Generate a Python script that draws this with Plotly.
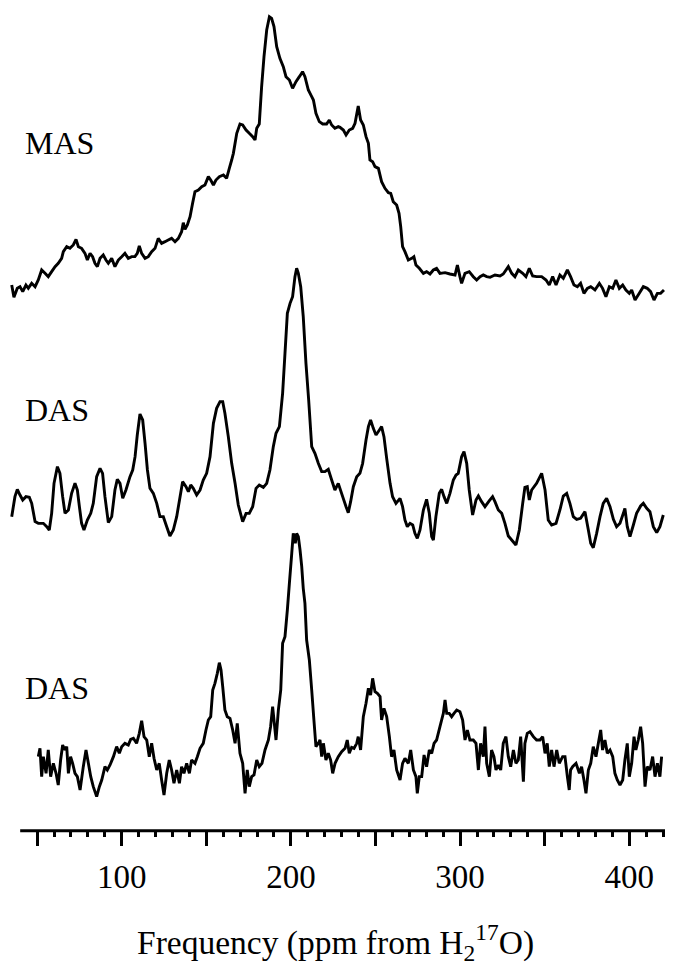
import plotly.graph_objects as go

# ---------------- data (ppm, intensity in arbitrary units) ----------------
mas_ppm = [35.0, 36.3, 38.3, 39.9, 41.5, 43.4, 44.8, 46.8, 48.8, 50.7, 52.7, 54.7, 56.6, 58.6, 60.6, 62.5, 64.5, 65.5, 67.5, 69.4,
           71.4, 73.0, 74.4, 76.3, 78.3, 79.7, 81.3, 82.8, 84.2, 85.6, 87.2, 89.1, 90.7, 92.1, 94.1, 96.0, 98.0, 100.0, 101.9, 103.9,
           105.9, 107.8, 109.2, 110.4, 111.8, 113.8, 115.7, 117.7, 119.7, 121.6, 123.6, 125.6, 127.5, 129.5, 131.5, 133.5, 135.4, 136.4, 137.4, 138.8,
           140.4, 141.9, 143.3, 145.3, 147.3, 149.2, 151.2, 152.6, 154.2, 155.7, 157.7, 160.1, 162.0, 163.6, 165.0, 166.0, 168.0, 169.9, 171.5, 173.5,
           175.4, 177.4, 178.8, 179.8, 181.3, 182.7, 184.1, 185.7, 187.3, 188.6, 190.0, 191.6, 193.5, 195.5, 197.1, 199.1, 201.0, 203.0, 205.0, 206.9,
           208.3, 210.3, 212.3, 213.3, 214.8, 216.8, 218.8, 221.1, 222.7, 224.1, 226.0, 228.0,
           229.0, 231.0, 232.6, 234.5, 236.5, 237.9, 239.8, 241.2, 242.8, 244.4, 245.8, 246.7, 248.3, 249.7, 251.7, 253.6, 255.6, 257.6, 259.0, 260.5,
           262.5, 263.9, 264.9, 266.0, 267.4, 269.4, 271.4, 272.7, 273.9, 275.9, 278.3, 280.2, 282.2, 284.2, 286.1, 288.1, 291.1, 294.0, 297.0, 298.4,
           299.9, 300.9, 302.9, 305.4, 307.8, 309.8, 311.8, 313.7, 315.7, 317.7, 320.6, 323.6, 325.5, 328.5, 330.5, 332.4, 334.4, 337.0, 338.9, 340.9,
           342.9, 345.2, 348.2, 350.8, 352.7, 354.7, 356.7, 359.0, 361.0, 363.4, 365.3, 367.3, 369.3, 371.2, 373.2, 375.2, 377.2, 379.7, 382.3, 384.2,
           386.2, 388.2, 390.2, 392.1, 394.1, 396.1, 398.0, 400.0, 401.4, 403.4, 405.9, 408.3, 410.6, 412.6, 414.6, 416.6, 418.5, 420.5]
mas_int = [45, 8, 35, 40, 25, 45, 35, 50, 40, 60, 90, 80, 70, 85, 100, 110, 125, 145, 160, 155,
           165, 182, 160, 155, 140, 120, 140, 130, 110, 100, 125, 135, 120, 110, 125, 100, 120, 130, 140, 125,
           130, 130, 140, 162, 140, 125, 130, 145, 155, 185, 170, 175, 180, 185, 175, 185, 205, 232, 212, 225,
           250, 290, 325, 330, 340, 345, 370, 360, 345, 360, 370, 375, 365, 395, 420, 440, 500, 528, 525, 510,
           500, 490, 480, 515, 528, 640, 730, 810, 850, 845, 820, 760, 725, 700, 670, 660, 635, 655, 670, 685,
           670, 630, 610, 600, 560, 535, 528, 528, 540, 525, 515, 520,
           518, 510, 495, 510, 515, 530, 582, 540, 525, 490, 470, 420, 415, 400, 395, 355, 335, 322, 320, 295,
           285, 260, 220, 160, 145, 120, 125, 130, 105, 95, 80, 85, 78, 90, 95, 80, 82, 78, 75, 105,
           70, 50, 80, 85, 70, 60, 70, 75, 70, 68, 75, 72, 78, 100, 80, 70, 90, 80, 70, 95,
           72, 70, 70, 60, 45, 70, 45, 75, 65, 90, 70, 45, 40, 50, 20, 35, 40, 30, 50, 35,
           10, 40, 35, 60, 35, 45, 30, 20, 30, 0, 20, 40, 35, 25, 0, 20, 20, 30]

das1_ppm = [35.0, 36.9, 38.3, 39.9, 41.5, 43.4, 45.4, 46.8, 48.8, 50.7, 53.7, 55.7, 57.2, 58.6, 60.0, 62.0, 63.5, 65.1, 66.5, 68.5,
            70.4, 72.4, 73.8, 75.0, 76.3, 77.7, 79.7, 81.7, 83.2, 85.2, 87.2, 88.7, 90.1, 92.1, 94.1, 96.0, 97.4, 99.0, 100.6, 102.5,
            104.9, 106.5, 107.9, 109.2, 110.8, 112.4, 113.8, 115.2, 116.7, 118.7, 120.7, 122.6, 124.6, 126.6, 128.5, 130.5, 132.5, 134.5, 136.0, 138.0,
            139.4, 140.8, 142.3, 144.3, 146.3, 148.2, 150.2, 152.2, 154.2, 156.1, 158.1, 159.7, 161.0, 163.0, 165.0, 167.0, 168.9, 171.5, 173.5, 175.4,
            177.4, 179.4, 181.3, 183.7, 185.7, 187.6, 189.6, 191.2, 193.2, 195.1, 196.5, 197.9, 199.5, 201.0, 202.4, 203.4, 204.4, 205.8, 207.3, 208.9,
            210.5, 212.3, 214.2, 216.2, 218.2, 220.1, 222.1, 224.1, 226.0, 228.0,
            230.6, 232.6, 233.9, 235.3, 236.9, 238.9, 240.8, 242.4, 244.4, 245.8, 247.1, 248.7, 250.3, 252.3, 253.6, 255.0, 256.6, 258.6, 260.1, 262.1,
            264.5, 266.0, 267.4, 268.8, 270.4, 272.0, 273.3, 274.7, 276.3, 278.3, 280.2, 281.8, 283.2, 284.2, 285.7, 287.7, 289.1, 290.5, 292.1, 294.0,
            296.0, 297.6, 298.9, 300.9, 302.3, 303.9, 305.4, 307.4, 309.4, 310.8, 312.7, 314.7, 317.3, 319.2, 320.6, 322.6, 324.6, 326.5, 328.5, 330.5,
            333.0, 335.0, 337.0, 338.3, 339.7, 340.9, 342.3, 345.2, 348.2, 350.2, 352.1, 354.1, 356.7, 359.0, 361.0, 363.0, 364.9, 366.9, 368.9, 371.2,
            373.8, 375.8, 377.2, 378.7, 380.7, 382.7, 384.6, 386.6, 388.6, 390.6, 392.5, 394.5, 396.5, 397.4, 398.8, 400.4, 402.4, 404.3, 406.7, 408.3,
            410.3, 412.2, 414.2, 416.2, 418.1, 420.1]
das1_int = [100, 160, 182, 165, 150, 160, 158, 140, 85, 80, 80, 70, 60, 110, 200, 250, 230, 160, 110, 120,
            170, 200, 180, 130, 80, 60, 90, 110, 140, 220, 245, 230, 160, 82, 100, 180, 212, 200, 155, 180,
            220, 240, 280, 345, 408, 390, 320, 240, 185, 170, 140, 100, 100, 70, 42, 60, 100, 160, 205, 190,
            175, 195, 185, 165, 180, 210, 230, 280, 380, 425, 445, 445, 410, 340, 260, 200, 135, 85, 110, 110,
            130, 185, 195, 188, 200, 240, 310, 350, 370, 470, 590, 710, 740, 760, 820, 845, 830, 790, 700, 560,
            450, 310, 290, 260, 235, 235, 242, 210, 180, 200,
            160, 130, 112, 145, 190, 220, 230, 260, 330, 370, 390, 365, 345, 360, 370, 340, 275, 200, 160, 140,
            155, 130, 90, 70, 80, 75, 50, 35, 60, 120, 152, 110, 40, 30, 100, 170, 182, 160, 140, 170,
            210, 225, 230, 280, 295, 260, 180, 105, 150, 162, 145, 130, 148, 160, 145, 120, 110, 80, 42, 30,
            15, 60, 140, 188, 190, 150, 180, 200, 230, 180, 90, 75, 80, 120, 162, 170, 140, 100, 92, 95,
            115, 60, 20, 7, 50, 100, 140, 155, 130, 92, 70, 80, 110, 125, 70, 40, 75, 110, 132, 140,
            125, 115, 70, 52, 70, 105]

das2_ppm = [50.7, 51.7, 52.7, 53.7, 55.3, 56.6, 58.0, 59.6, 61.2, 62.5, 63.9, 65.1, 66.5, 67.5, 68.5, 69.8, 71.0, 72.4, 73.8, 75.4,
            77.3, 78.9, 80.3, 81.7, 83.2, 85.2, 86.8, 88.2, 90.1, 91.5, 93.1, 95.1, 97.0, 98.6, 100.0, 101.9, 103.9, 105.3, 106.9, 108.8,
            110.4, 111.8, 113.2, 114.8, 116.3, 117.7, 119.1, 120.7, 122.2, 123.6, 125.0, 126.6, 128.1, 129.5, 130.9, 132.5, 134.1, 135.4, 136.8, 138.4,
            140.0, 141.3, 143.3, 144.7, 146.3, 148.2, 149.8, 151.2, 152.6, 153.8, 155.1, 156.5, 157.7, 158.7, 159.7, 161.0, 162.4, 164.0, 165.6, 167.0,
            168.3, 169.9, 171.5, 172.9, 174.2, 175.4, 176.8, 178.2, 179.8, 181.3, 182.9, 184.7, 186.7, 188.0, 189.2, 190.2, 191.2, 192.6, 194.0, 195.1,
            196.5, 197.9, 199.1, 200.5, 201.4, 202.6, 203.4, 204.4, 205.4, 206.4, 207.3, 208.3, 209.3, 210.9, 212.3, 213.6, 214.8, 216.2, 217.2, 218.2,
            219.2, 220.7, 222.1, 223.5, 224.7, 226.1, 228.0,
            230.0, 232.0, 233.3, 234.5, 235.9, 237.3, 238.9, 239.8, 241.2, 242.8, 244.4, 245.8, 247.1, 248.3, 249.7, 251.1, 252.7, 253.6, 255.0, 256.6,
            258.2, 259.5, 260.9, 262.5, 264.5, 266.0, 267.4, 269.4, 270.8, 272.4, 273.9, 274.7, 275.9, 277.3, 278.7, 280.2, 281.8, 283.2, 284.6, 286.1,
            288.1, 290.1, 291.1, 292.1, 293.6, 295.0, 296.4, 298.0, 299.9, 301.5, 302.9, 304.3, 305.8, 307.8, 309.4, 310.8, 312.1, 313.7, 314.7, 315.7,
            317.3, 318.6, 320.0, 321.2, 322.6, 324.0, 325.5, 327.1, 328.5, 329.9, 331.5, 333.0, 334.4, 335.8, 337.4, 338.3, 339.7, 341.3, 343.3, 345.2,
            347.2, 348.8, 350.2, 351.5, 352.7, 354.1, 355.5, 357.1, 358.6, 360.6, 362.0, 363.4, 364.5, 365.3, 366.5, 368.5, 370.5, 371.8, 373.2, 374.4,
            375.8, 377.2, 378.7, 380.3, 381.7, 383.1, 384.2, 385.6, 387.0, 388.6, 390.2, 391.5, 392.9, 394.5, 396.1, 397.4, 398.8, 400.0, 401.4, 402.8,
            403.9, 405.3, 406.7, 407.9, 409.3, 410.6, 412.2, 413.8, 415.2, 416.6, 418.1, 419.1]
das2_int = [160, 185, 100, 160, 110, 180, 100, 140, 110, 75, 150, 195, 180, 190, 110, 160, 140, 110, 100, 60,
            130, 180, 140, 100, 70, 40, 70, 90, 130, 120, 135, 160, 190, 170, 190, 200, 195, 212, 215, 200,
            230, 268, 220, 210, 160, 200, 155, 120, 140, 90, 45, 110, 150, 120, 80, 120, 80, 130, 110, 140,
            110, 150, 140, 160, 185, 200, 240, 270, 280, 360, 380, 410, 442, 420, 370, 300, 280, 275, 240, 200,
            260, 170, 140, 50, 120, 70, 100, 105, 150, 130, 140, 180, 210, 250, 310, 260, 210, 300, 360, 500,
            520, 600, 680, 770, 830, 800, 830, 820, 780, 730, 665, 620, 510, 450, 360, 270, 190, 200, 210, 160,
            200, 150, 170, 150, 110, 140, 160,
            175, 185, 210, 170, 188, 185, 200, 220, 180, 280, 320, 365, 345, 395, 355, 350, 340, 270, 305, 280,
            220, 160, 180, 120, 90, 140, 155, 140, 180, 120, 100, 50, 100, 100, 165, 130, 180, 170, 200, 210,
            250, 290, 330, 290, 290, 280, 290, 300, 295, 270, 210, 240, 210, 210, 200, 120, 200, 160, 250, 140,
            100, 180, 160, 120, 135, 120, 200, 220, 160, 130, 180, 140, 150, 220, 85, 200, 230, 235, 220, 210,
            210, 220, 170, 200, 130, 180, 130, 180, 140, 160, 160, 100, 60, 120, 130, 140, 110, 130, 90, 50,
            120, 140, 190, 160, 200, 240, 180, 210, 170, 180, 160, 110, 90, 75, 90, 150, 200, 100, 140, 220,
            180, 210, 250, 200, 70, 130, 120, 160, 100, 140, 100, 160]

spectrum_labels = ["MAS", "DAS", "DAS"]
major_ticks = [50, 100, 150, 200, 250, 300, 350, 400]
major_text = ["", "100", "", "200", "", "300", "", "400"]
minor_ticks = [60, 70, 80, 90, 110, 120, 130, 140, 160, 170, 180, 190, 210, 220, 230, 240,
               260, 270, 280, 290, 310, 320, 330, 340, 360, 370, 380, 390, 410, 420]
x_title = "Frequency (ppm from H<sub>2</sub><sup>17</sup>O)"

assert len(mas_ppm) == len(mas_int)
assert len(das1_ppm) == len(das1_int)
assert len(das2_ppm) == len(das2_int)

# ---------------- figure ----------------
# the page body has an 8px margin, so the figure is sized to the remaining viewport
W, H = 665, 962
X_RANGE = [32.80, 425.83]
AXIS_SPAN = [40.0, 422.8]
AXIS_POS = 0.1448
SERIF = "Liberation Serif"
line_style = dict(color="black", width=2.9, simplify=False)

fig = go.Figure()
for xs, ys, ya in [(mas_ppm, mas_int, "y"), (das1_ppm, das1_int, "y2"), (das2_ppm, das2_int, "y3")]:
    fig.add_trace(go.Scatter(x=xs, y=ys, mode="lines", line=line_style, xaxis="x", yaxis=ya,
                             hoverinfo="skip", showlegend=False))

yax = dict(visible=False, fixedrange=True, anchor="x")
fig.update_layout(
    width=W, height=H,
    margin=dict(l=0, r=0, t=0, b=0),
    paper_bgcolor="white", plot_bgcolor="rgba(0,0,0,0)",
    showlegend=False,
    xaxis=dict(range=X_RANGE, anchor="free", position=AXIS_POS,
               showline=False, showgrid=False, zeroline=False,
               ticks="outside", tickmode="array", tickvals=major_ticks, ticktext=major_text,
               ticklen=14, tickwidth=3, tickcolor="black",
               ticklabelstandoff=3,
               tickfont=dict(family=SERIF, size=33, color="black"),
               minor=dict(tickmode="array", tickvals=minor_ticks, ticks="outside",
                          ticklen=5, tickwidth=2.5, tickcolor="black", showgrid=False)),
    yaxis=dict(domain=[0.68607, 1.0], range=[-30, 876], **yax),
    yaxis2=dict(domain=[0.42620, 0.74844], range=[-30, 900], **yax),
    yaxis3=dict(domain=[0.15593, 0.47817], range=[-30, 900], **yax),
)

fig.add_shape(type="line", xref="x", yref="paper", x0=AXIS_SPAN[0], x1=AXIS_SPAN[1],
              y0=AXIS_POS, y1=AXIS_POS, line=dict(color="black", width=3))

label_y = [0.8597, 0.5821, 0.2931]
for txt, yy in zip(spectrum_labels, label_y):
    fig.add_annotation(text=txt, xref="paper", yref="paper", x=15 / W, y=yy,
                       xanchor="left", yanchor="middle", showarrow=False,
                       font=dict(family=SERIF, size=32, color="black"))

fig.add_annotation(text=x_title, xref="paper", yref="paper", x=0.4932, y=0.0291,
                   xanchor="center", yanchor="middle", showarrow=False,
                   font=dict(family=SERIF, size=33.5, color="black"))

fig.write_html("out.html")
